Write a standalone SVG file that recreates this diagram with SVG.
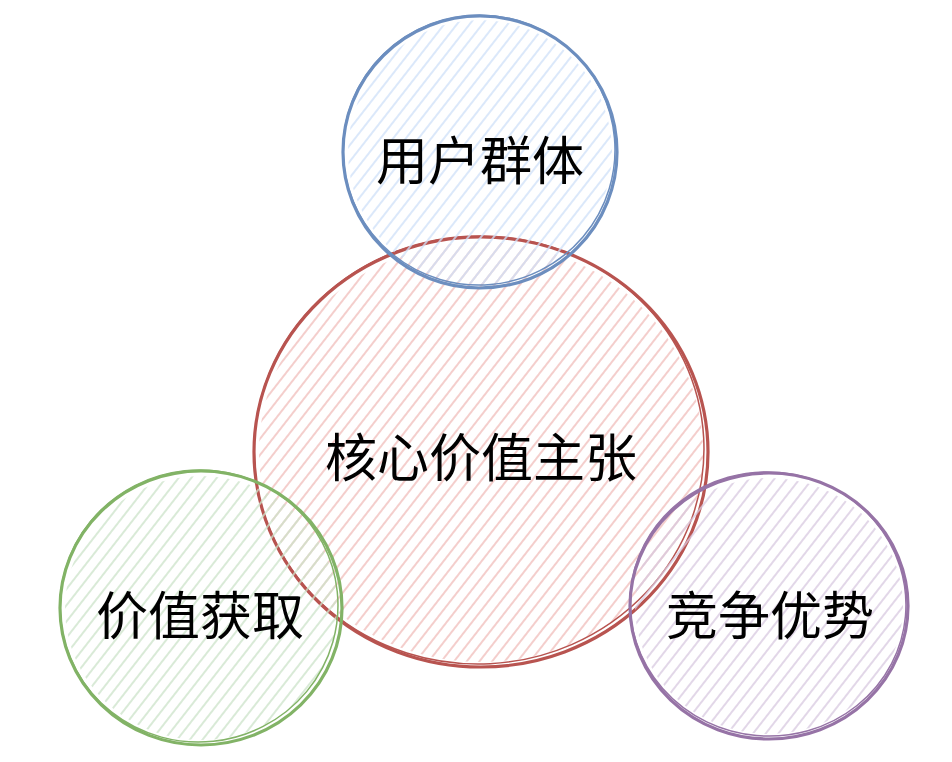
<svg xmlns="http://www.w3.org/2000/svg" width="952" height="762" viewBox="0 0 952 762">
  <defs>
    <pattern id="hRed" width="10" height="10" patternUnits="userSpaceOnUse" patternTransform="rotate(38)">
      <line x1="5" y1="0" x2="5" y2="10" stroke="#f0bebb" stroke-width="1.5"/>
    </pattern>
    <pattern id="hBlue" width="10" height="10" patternUnits="userSpaceOnUse" patternTransform="rotate(38)">
      <line x1="5" y1="0" x2="5" y2="10" stroke="#cfe0f8" stroke-width="1.5"/>
    </pattern>
    <pattern id="hGreen" width="10" height="10" patternUnits="userSpaceOnUse" patternTransform="rotate(38)">
      <line x1="5" y1="0" x2="5" y2="10" stroke="#cce3ca" stroke-width="1.5"/>
    </pattern>
    <pattern id="hPurple" width="10" height="10" patternUnits="userSpaceOnUse" patternTransform="rotate(38)">
      <line x1="5" y1="0" x2="5" y2="10" stroke="#d9cae1" stroke-width="1.5"/>
    </pattern>
  </defs>
  <style>
    .lbl { font-family: "Noto Sans CJK SC", "Noto Sans", sans-serif; font-size: 52px; fill: #000000; text-anchor: middle; dominant-baseline: central; }
    .o1 { fill: none; stroke-width: 3.2; stroke-linecap: round; }
    .o2 { fill: none; stroke-width: 1.5; stroke-linecap: round; }
    .red { stroke: #b85450; }
    .blue { stroke: #6c8ebf; }
    .green { stroke: #82b366; }
    .purple { stroke: #9673a6; }
  </style>
  <rect width="952" height="762" fill="#ffffff"/>

  <g id="node-core">
    <ellipse cx="481" cy="452" rx="222" ry="210" fill="url(#hRed)"/>
    <ellipse class="o1 red" cx="481" cy="452" rx="227" ry="215"/>
    <ellipse class="o2 red" cx="479" cy="450" rx="225" ry="214" transform="rotate(-3 479 450)"/>
    <text class="lbl" x="481" y="454">核心价值主张</text>
  </g>

  <g id="node-users">
    <ellipse cx="480" cy="152" rx="132" ry="132" fill="url(#hBlue)"/>
    <ellipse class="o1 blue" cx="480" cy="152" rx="137" ry="136"/>
    <ellipse class="o2 blue" cx="479" cy="150" rx="136" ry="135" transform="rotate(-5 479 150)"/>
    <text class="lbl" x="480" y="157">用户群体</text>
  </g>

  <g id="node-capture">
    <ellipse cx="201" cy="608" rx="136" ry="132" fill="url(#hGreen)"/>
    <ellipse class="o1 green" cx="201" cy="608" rx="141" ry="137"/>
    <ellipse class="o2 green" cx="199" cy="606" rx="139" ry="136" transform="rotate(-6 199 606)"/>
    <text class="lbl" x="200" y="612">价值获取</text>
  </g>

  <g id="node-advantage">
    <ellipse cx="769" cy="606" rx="134" ry="128" fill="url(#hPurple)"/>
    <ellipse class="o1 purple" cx="769" cy="606" rx="139" ry="133"/>
    <ellipse class="o2 purple" cx="768" cy="604" rx="138" ry="132" transform="rotate(5 768 604)"/>
    <text class="lbl" x="770" y="612">竞争优势</text>
  </g>
</svg>
